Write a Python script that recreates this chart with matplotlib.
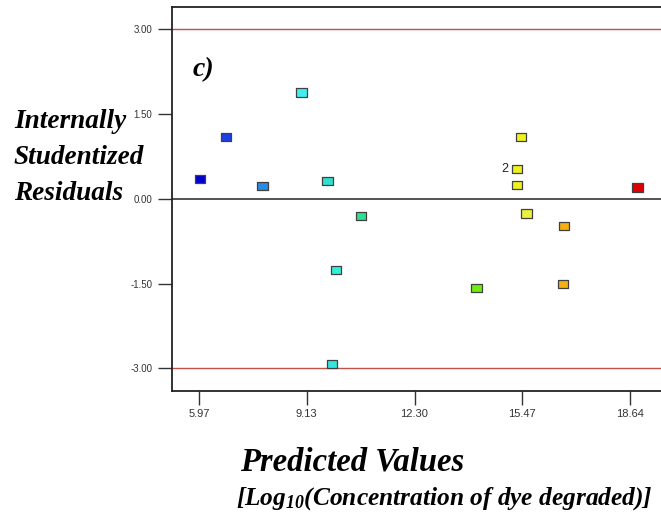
import numpy as np
import matplotlib
matplotlib.use("Agg")
from matplotlib import pyplot as plt

# residuals vs predicted, points coloured by response level
predicted = [5.99, 6.75, 7.83, 8.98, 9.74, 10.72, 9.99, 9.87,
             14.12, 15.43, 15.32, 15.32, 15.60, 16.70, 16.67, 18.86]
residuals = [0.35, 1.10, 0.23, 1.88, 0.31, -0.31, -1.26, -2.93,
             -1.58, 1.09, 0.53, 0.25, -0.26, -0.48, -1.51, 0.20]
colors = ["#0000d2", "#1a40e6", "#2a8ae8", "#40eef0", "#30e0d0", "#2ee092",
          "#30f0d8", "#30e8e0", "#70ee10", "#eef020", "#eef020", "#eef020",
          "#eef040", "#f8b010", "#f8b010", "#e00000"]
x_ticks = [5.97, 9.13, 12.30, 15.47, 18.64]
y_ticks = [-3.00, -1.50, 0.00, 1.50, 3.00]
limit = 3.0
ylabel_lines = ["Internally", "Studentized", "Residuals"]

plt.rcParams["mathtext.fontset"] = "custom"
plt.rcParams["mathtext.rm"] = "Liberation Serif:italic:bold"
plt.rcParams["mathtext.it"] = "Liberation Serif:italic:bold"

fig = plt.figure(figsize=(6.61, 5.23), dpi=100)
ax = fig.add_axes([0.2602, 0.2524, 0.7398, 0.7342])

ax.axhline(limit, color="#c05048", lw=1.0, zorder=1)
ax.axhline(-limit, color="#c05048", lw=1.0, zorder=1)
ax.axhline(0, color="#444444", lw=1.3, zorder=1)

box = [(-1.3, -1), (1.3, -1), (1.3, 1), (-1.3, 1), (-1.3, -1)]
ax.scatter(predicted, residuals, marker=box, s=7.6 ** 2, c=colors,
           edgecolors="#404040", linewidths=0.9, zorder=3)
ax.text(15.06, 0.53, "2", ha="right", va="center", fontsize=9,
        family="Liberation Sans", color="#222222")

ax.set_xlim(5.166, 19.55)
ax.set_ylim(-3.40, 3.393)
ax.set_xticks(x_ticks)
ax.set_xticklabels(["%.2f" % v for v in x_ticks])
ax.set_yticks(y_ticks)
ax.set_yticklabels(["%.2f" % v for v in y_ticks])
ax.tick_params(direction="out", length=10, width=1.0, color="#333333",
               labelsize=7, labelcolor="#333333", pad=4)
ax.tick_params(axis="x", labelsize=8, pad=3)
for lab in ax.get_xticklabels() + ax.get_yticklabels():
    lab.set_family("Liberation Sans")
ax.spines["right"].set_visible(False)
for s in ["left", "top", "bottom"]:
    ax.spines[s].set_linewidth(1.3)
    ax.spines[s].set_color("#222222")

serif = dict(family="Liberation Serif", style="italic", weight="bold")
ax.text(0.043, 0.836, "c)", transform=ax.transAxes, fontsize=20,
        va="center", ha="left", **serif)
# y label as three separate lines
for i, line in enumerate(ylabel_lines):
    fig.text(14 / 661, 1 - (122 + 36 * i) / 523, line, fontsize=19.6,
             ha="left", va="center", **serif)
fig.text(240 / 661, 1 - 462 / 523, "Predicted Values", fontsize=23.5,
         ha="left", va="center", **serif)
fig.text(236 / 661, 1 - 499 / 523,
         "[Log$_{10}$(Concentration of dye degraded)]", fontsize=18.3,
         ha="left", va="center", **serif)

fig.savefig("out.png", dpi=100)
